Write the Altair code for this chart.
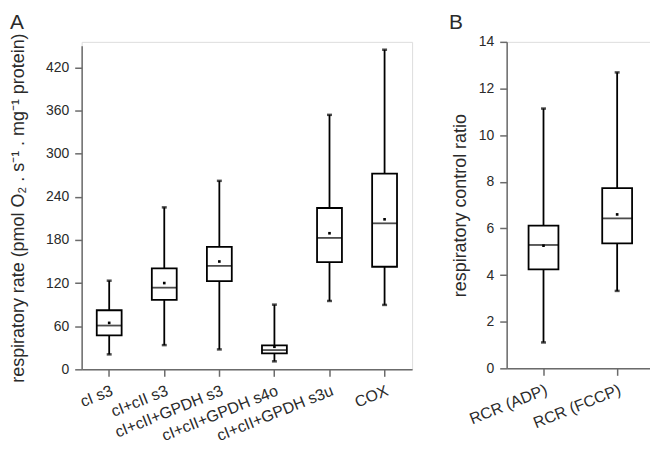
import altair as alt
import pandas as pd

# ---------------- data ----------------
cats_a = ["cI s3", "cI+cII s3", "cI+cII+GPDH s3", "cI+cII+GPDH s4o", "cI+cII+GPDH s3u", "COX"]
wlo_a = [20.8, 33.7, 27.7, 11.1, 95.1, 89.6]
q1_a = [47.1, 96.5, 122.8, 22.2, 149.1, 142.7]
med_a = [60.9, 113.6, 144.0, 26.8, 182.8, 203.1]
q3_a = [82.2, 140.4, 170.4, 33.2, 224.4, 272.3]
whi_a = [123.3, 225.3, 262.2, 90.0, 354.0, 444.6]
mean_a = [64.6, 120.0, 150.0, 31.4, 189.3, 208.7]

cats_b = ["RCR (ADP)", "RCR (FCCP)"]
wlo_b = [1.11, 3.32]
q1_b = [4.24, 5.36]
med_b = [5.29, 6.43]
q3_b = [6.12, 7.73]
whi_b = [11.14, 12.69]
mean_b = [5.26, 6.60]

yticks_a = list(range(0, 421, 30))
yticks_b = list(range(0, 15, 1))

FONT = "Liberation Sans"
AXIS_GREY = "#6b6b6b"
TEXT = "#2a2a2a"


def panel(cats, wlo, q1, med, q3, whi, mean, ydom, yrange, yvals, major, ytitle, title_size,
          width, height, box_w, letter, letter_x, letter_y, letter_align, title_pad):
    df = pd.DataFrame({"cat": cats, "wlo": wlo, "q1": q1, "med": med,
                       "q3": q3, "whi": whi, "mean": mean})
    xenc = alt.X("cat:N", sort=cats, title=None,
                 scale=alt.Scale(paddingInner=0, paddingOuter=0),
                 axis=alt.Axis(labelAngle=-22, labelAlign="right", labelBaseline="top",
                               labelPadding=6, tickSize=7, tickColor=AXIS_GREY, tickWidth=1.5,
                               domainColor=AXIS_GREY, domainWidth=1.5,
                               labelFont=FONT, labelFontSize=16, labelColor=TEXT,
                               labelLimit=300))
    yaxis = alt.Axis(values=yvals, title=ytitle,
                     labelExpr=f"datum.value % {major} == 0 ? datum.label : ''",
                     tickSize={"condition": {"test": f"datum.value % {major} != 0", "value": 4}, "value": 7},
                     tickColor=AXIS_GREY, tickWidth=1.5, domainColor=AXIS_GREY, domainWidth=1.5,
                     labelFont=FONT, labelFontSize=14, labelColor=TEXT, labelPadding=6,
                     titleFont=FONT, titleFontSize=title_size, titleFontWeight="normal",
                     titleColor=TEXT, titlePadding=title_pad, grid=False)
    yscale = alt.Scale(domain=ydom, range=yrange, nice=False, zero=True)
    base = alt.Chart(df)
    whisk = base.mark_rule(color="black", strokeWidth=1.8).encode(
        x=xenc, y=alt.Y("wlo:Q", scale=yscale, axis=yaxis), y2="whi:Q")
    box = base.mark_bar(size=box_w, fill="white", stroke="black", strokeWidth=1.8).encode(
        x=alt.X("cat:N", sort=cats), y="q1:Q", y2="q3:Q")
    medt = base.mark_tick(size=box_w, thickness=1.8, color="black").encode(
        x=alt.X("cat:N", sort=cats), y="med:Q")
    caplo = base.mark_tick(size=5, thickness=2.5, color="black").encode(
        x=alt.X("cat:N", sort=cats), y="wlo:Q")
    caphi = base.mark_tick(size=5, thickness=2.5, color="black").encode(
        x=alt.X("cat:N", sort=cats), y="whi:Q")
    meanp = base.mark_square(size=7, color="black", opacity=1).encode(
        x=alt.X("cat:N", sort=cats), y="mean:Q")
    lab = alt.Chart(pd.DataFrame({"t": [letter]})).mark_text(
        font=FONT, fontSize=21, color=TEXT, align=letter_align, baseline="top").encode(
        text="t:N", x=alt.value(letter_x), y=alt.value(letter_y))
    return alt.layer(whisk, box, medt, caplo, caphi, meanp, lab).properties(width=width, height=height)


pa = panel(cats_a, wlo_a, q1_a, med_a, q3_a, whi_a, mean_a, [0, 450], [329, 4], yticks_a, 60,
           "respiratory rate (pmol O\u2082 . s\u207b\u00b9 . mg\u207b\u00b9 protein)", 18,
           332, 329, 25, "A", -65, -30, "center", 18.5)
pb = panel(cats_b, wlo_b, q1_b, med_b, q3_b, whi_b, mean_b, [0, 14], [328, 0], yticks_b, 2,
           "respiratory control ratio", 18,
           148, 328, 30, "B", -58, -30, "left", 9)

chart = alt.hconcat(pa, pb, spacing=35).properties(
    padding={"left": 0, "top": 2, "right": -5, "bottom": -2}
).configure_view(stroke="transparent", strokeWidth=0).configure(background="white")

chart.save("out.html", embed_options={"renderer": "svg", "actions": False})
